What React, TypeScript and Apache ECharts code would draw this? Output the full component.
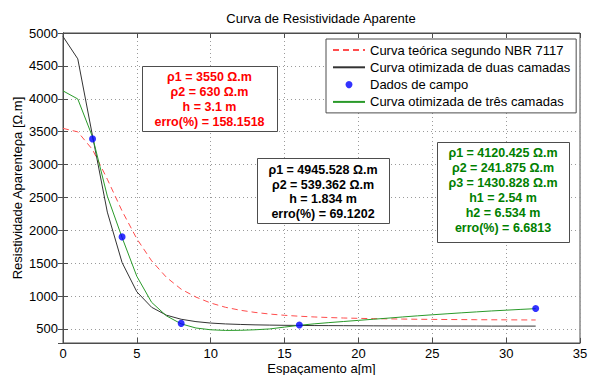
import React, { useEffect, useRef } from "react";
import * as echarts from "echarts";

// ---- data ----
const spacing = [0, 1, 2, 3, 4, 5, 6, 7, 8, 9, 10, 11, 12, 13, 14, 15, 16, 17, 18, 19, 20, 21, 22, 23, 24, 25, 26, 27, 28, 29, 30, 31, 32];
const theoretical = [3550, 3497, 3227, 2777, 2294, 1871, 1536, 1286, 1105, 985, 895, 830, 785, 752, 727, 708, 694, 683, 674, 667, 662, 657, 654, 651, 648, 646, 644, 643, 641, 640, 639, 638, 637];
const twoLayer = [4946, 4607, 3434, 2277, 1510, 1065, 830, 710, 648, 612, 590, 577, 569, 563, 559, 556, 554, 552, 551, 550, 549, 548, 547, 547, 546, 546, 545, 545, 545, 544, 544, 544, 544];
const threeLayer = [4120, 3997, 3420, 2520, 1890, 1300, 905, 700, 578, 515, 488, 478, 480, 488, 501, 529, 556, 578, 597, 614, 631, 648, 665, 683, 700, 716, 731, 746, 760, 774, 786, 798, 809];
const fieldSpacing = [2, 4, 8, 16, 32];
const fieldValues = [3390, 1900, 585, 560, 812];

const legendNames = [
  "Curva teórica segundo NBR 7117",
  "Curva otimizada de duas camadas",
  "Dados de campo",
  "Curva otimizada de três camadas",
];
const titleText = "Curva de Resistividade Aparente";
const xName = "Espaçamento a[m]";
const yName = "Resistividade Aparenteρa [Ω.m]";
const boxRed = ["ρ1 = 3550 Ω.m", "ρ2 = 630 Ω.m", "h = 3.1 m", "erro(%) = 158.1518"];
const boxBlack = ["ρ1 = 4945.528 Ω.m", "ρ2 = 539.362 Ω.m", "h = 1.834 m", "erro(%) = 69.1202"];
const boxGreen = ["ρ1 = 4120.425 Ω.m", "ρ2 = 241.875 Ω.m", "ρ3 = 1430.828 Ω.m", "h1 = 2.54 m", "h2 = 6.534 m", "erro(%) = 6.6813"];

const FONT = "'Liberation Sans', Arial, Helvetica, sans-serif";
const FRAME = "#4d4d4d";

function textBox(x: number, y: number, w: number, h: number, lines: string[], color: string, firstY: number, step: number) {
  const els: any[] = [
    {
      type: "rect",
      shape: { x: x + 0.5, y: y + 0.5, width: w, height: h },
      style: { fill: "#ffffff", stroke: FRAME, lineWidth: 1 },
      z: 100,
    },
  ];
  lines.forEach((t, i) => {
    els.push({
      type: "text",
      x: x + w / 2,
      y: firstY + i * step,
      style: {
        text: t,
        fill: color,
        font: `bold 12.5px ${FONT}`,
        align: "center",
        verticalAlign: "middle",
      },
      z: 101,
    });
  });
  return els;
}

export default function App() {
  const ref = useRef<HTMLDivElement>(null);

  useEffect(() => {
    if (!ref.current) return;
    const chart = echarts.init(ref.current, undefined, { renderer: "svg" });

    const axisCommonX = {
      type: "value" as const,
      min: 0,
      max: 35,
      interval: 5,
    };
    const axisCommonY = {
      type: "value" as const,
      min: 287,
      max: 5000,
      splitNumber: 9,
    };
    const hiddenSymbol = { color: "rgba(0,0,0,0)", opacity: 0, borderWidth: 0 };

    chart.setOption({
      animation: false,
      backgroundColor: "#ffffff",
      textStyle: { fontFamily: FONT },
      grid: {
        left: 63,
        right: 9,
        top: 33,
        bottom: 32,
        show: true,
        borderColor: FRAME,
        borderWidth: 1,
        backgroundColor: "#ffffff",
        containLabel: false,
        outerBoundsMode: "none",
      },
      legend: {
        orient: "vertical",
        left: 326,
        top: 39,
        padding: [4, 6, 4, 6],
        itemGap: 3.3,
        itemWidth: 32,
        itemHeight: 7,
        borderColor: FRAME,
        borderWidth: 1,
        backgroundColor: "#ffffff",
        borderRadius: 0,
        textStyle: { fontSize: 13, color: "#000", fontFamily: FONT, lineHeight: 14 },
        data: [
          { name: legendNames[0], itemStyle: hiddenSymbol },
          { name: legendNames[1], itemStyle: hiddenSymbol },
          { name: legendNames[2] },
          { name: legendNames[3], itemStyle: hiddenSymbol },
        ],
        selectedMode: false,
        z: 50,
      },
      xAxis: [
        {
          ...axisCommonX,
          position: "bottom",
          axisLine: { show: true, lineStyle: { color: FRAME, width: 1 } },
          axisTick: { show: true, inside: true, length: 5, lineStyle: { color: FRAME } },
          axisLabel: { color: "#000", fontSize: 13, fontFamily: FONT, margin: 4, lineHeight: 13 },
          splitLine: { show: true, lineStyle: { type: [1, 3], color: "#9a9a9a", width: 1 } },
          name: xName,
          nameLocation: "middle",
          nameGap: 19,
          nameMoveOverlap: false,
          nameTextStyle: { color: "#000", fontSize: 13, fontFamily: FONT, lineHeight: 13 },
        },
        {
          ...axisCommonX,
          position: "top",
          axisLine: { show: true, lineStyle: { color: FRAME, width: 1 } },
          axisTick: { show: true, inside: true, length: 5, lineStyle: { color: FRAME } },
          axisLabel: { show: false },
          splitLine: { show: false },
        },
      ],
      yAxis: [
        {
          ...axisCommonY,
          position: "left",
          axisLine: { show: true, lineStyle: { color: FRAME, width: 1 } },
          axisTick: { show: true, inside: true, length: 5, lineStyle: { color: FRAME } },
          axisLabel: {
            color: "#000",
            fontSize: 13,
            fontFamily: FONT,
            margin: 5,
            showMinLabel: false,
            formatter: (v: number) => String(v),
          },
          splitLine: { show: true, lineStyle: { type: [1, 3], color: "#9a9a9a", width: 1 } },
          name: yName,
          nameLocation: "middle",
          nameGap: 39,
          nameMoveOverlap: false,
          nameTextStyle: { color: "#000", fontSize: 13, fontFamily: FONT },
        },
        {
          ...axisCommonY,
          position: "right",
          axisLine: { show: true, lineStyle: { color: FRAME, width: 1 } },
          axisTick: { show: true, inside: true, length: 5, lineStyle: { color: FRAME } },
          axisLabel: { show: false },
          splitLine: { show: false },
        },
      ],
      series: [
        {
          name: legendNames[0],
          type: "line",
          data: spacing.map((x, i) => [x, theoretical[i]]),
          symbol: "none",
          lineStyle: { color: "#ff4d4d", width: 1, type: [6, 4] },
          itemStyle: { color: "#ff4d4d" },
          silent: true,
          z: 2,
        },
        {
          name: legendNames[1],
          type: "line",
          data: spacing.map((x, i) => [x, twoLayer[i]]),
          symbol: "none",
          lineStyle: { color: "#333333", width: 1 },
          itemStyle: { color: "#333333" },
          silent: true,
          z: 2,
        },
        {
          name: legendNames[2],
          type: "scatter",
          data: fieldSpacing.map((x, i) => [x, fieldValues[i]]),
          symbol: "circle",
          symbolSize: 7,
          itemStyle: { color: "#0000ff" },
          silent: true,
          z: 3,
        },
        {
          name: legendNames[3],
          type: "line",
          data: spacing.map((x, i) => [x, threeLayer[i]]),
          symbol: "none",
          lineStyle: { color: "#2a9a2a", width: 1 },
          itemStyle: { color: "#2a9a2a" },
          silent: true,
          z: 2,
        },
      ],
      graphic: [
        {
          type: "text",
          x: 321,
          y: 18,
          style: {
            text: titleText,
            fill: "#000",
            font: `13px ${FONT}`,
            align: "center",
            verticalAlign: "middle",
          },
        },
        ...textBox(142, 66, 135, 65, boxRed, "#ff0000", 77, 15),
        ...textBox(257, 158, 132, 65, boxBlack, "#000000", 170, 14.7),
        ...textBox(437, 142, 132, 100, boxGreen, "#008000", 153.3, 14.85),
      ],
    });

    return () => chart.dispose();
  }, []);

  return (
    <div
      ref={ref}
      style={{ position: "fixed", left: 0, top: 0, width: 589, height: 375, background: "#fff" }}
    />
  );
}
